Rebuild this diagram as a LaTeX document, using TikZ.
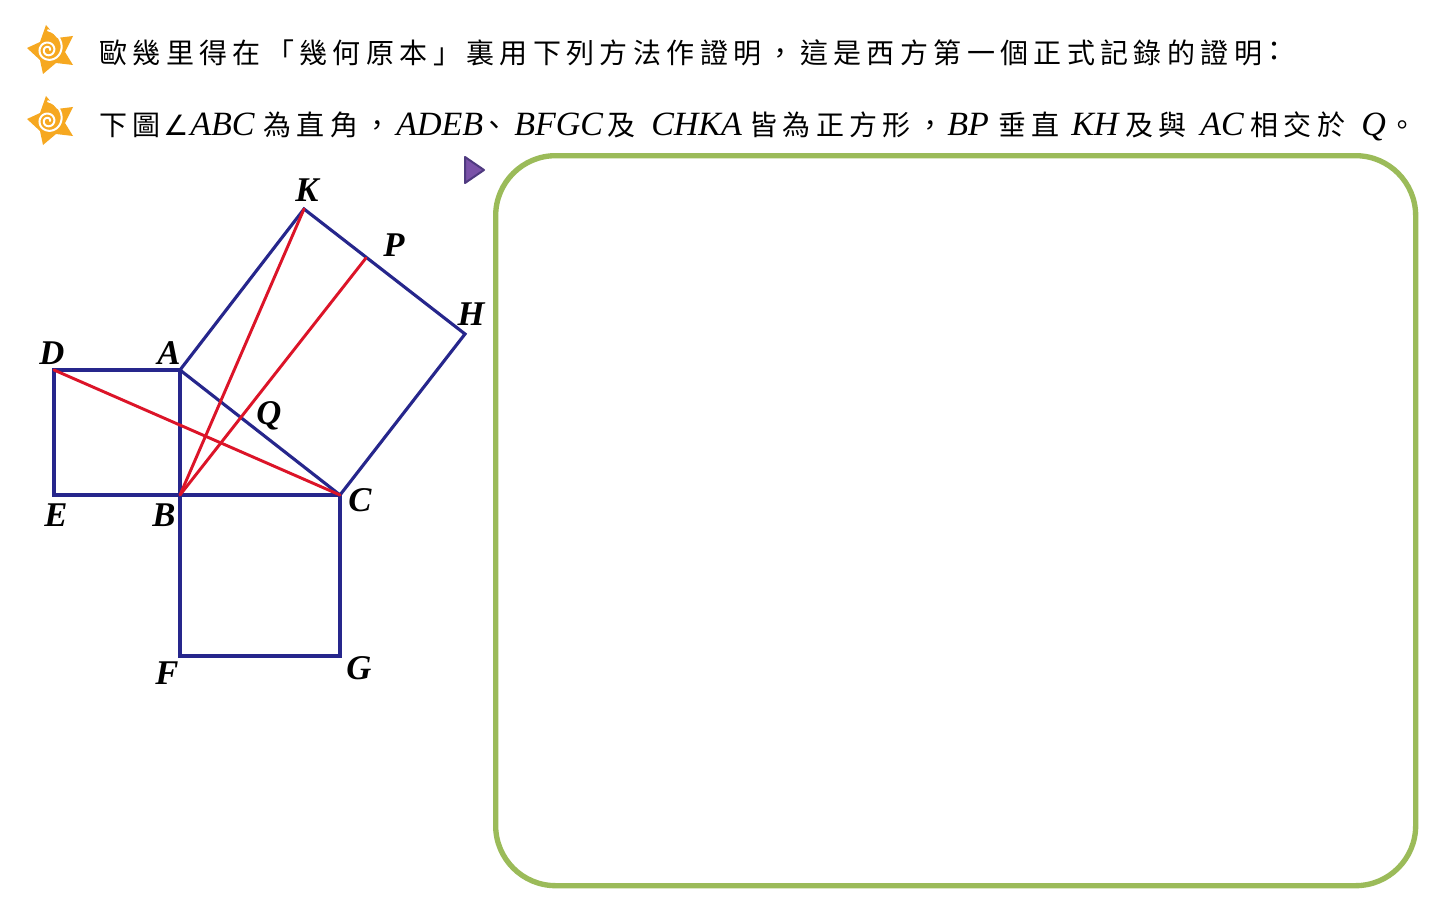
\documentclass[tikz,border=0pt]{standalone}
\usepackage{fontspec}
\setmainfont{Liberation Serif}
\newfontfamily\cjk[LetterSpace=19.2]{Noto Sans CJK TC}
\newfontfamily\mathsym{DejaVu Sans}
\definecolor{sq}{HTML}{26268C}
\definecolor{rd}{HTML}{DC1428}
\definecolor{frame}{HTML}{9BBB59}
\definecolor{stari}{HTML}{F6A821}
\definecolor{tri}{HTML}{7A52A8}
\definecolor{trid}{HTML}{4F3A80}
\tikzset{
  px/.style={x=0.75pt,y=-0.75pt},
  blueline/.style={draw=sq,line width=2.35pt,line join=miter},
  redline/.style={draw=rd,line width=2.2pt,line cap=round},
  ptlabel/.style={font=\fontsize{26pt}{26pt}\selectfont\bfseries\itshape,inner sep=0pt,text=black},
  cjktxt/.style={font=\fontsize{21pt}{24pt}\selectfont\cjk,anchor=base west,inner sep=0pt,text=black},
  lat/.style={font=\fontsize{25.5pt}{26pt}\selectfont\itshape,anchor=base west,inner sep=0pt,text=black},
}
\newcommand{\starmark}[1]{%
  \begin{scope}[shift={(0,#1)}]
    \fill[stari] (46,25) -- (57,38) -- (73,36) -- (65,52) -- (73,65) -- (56,63) -- (43,74) -- (40,60) -- (27,48) -- (40,42) -- cycle;
    \draw[white,line width=1.5pt,line cap=round] plot[domain=0:810,samples=80,smooth] ({48+(2+0.012*\x+8*(max(\x-600,0)/210)^2)*cos(720-\x)},{50+(2+0.012*\x+8*(max(\x-600,0)/210)^2)*sin(720-\x)});
  \end{scope}}
\begin{document}
\begin{tikzpicture}[px]
\useasboundingbox (0,0) rectangle (1446,917);
\fill[white] (0,0) rectangle (1446,917);
\starmark{0}
\starmark{71}
% text
\node[cjktxt] (t1) at (99,64) {歐幾里得在「幾何原本」裏用下列方法作證明^^^^ff0c這是西方第一個正式記錄的證明};
\node[cjktxt] (t2) at (1260,62) {^^^^ff1a};
\node[cjktxt] (a1) at (99,135) {下圖};
\node[lat,font=\fontsize{21pt}{26pt}\selectfont\mathsym] (a2) at (163,135) {∠};
\node[lat] (a3) at (190,135) {ABC};
\node[cjktxt] (a4) at (263,135) {為直角^^^^ff0c};
\node[lat] (a5) at (396,135) {ADEB};
\node[cjktxt] (a6) at (480,135) {、};
\node[lat] (a7) at (514,135) {BFGC};
\node[cjktxt] (a8) at (607,135) {及};
\node[lat] (a9) at (651,135) {CHKA};
\node[cjktxt] (a10) at (749,135) {皆為正方形^^^^ff0c};
\node[lat] (a11) at (947,135) {BP};
\node[cjktxt] (a12) at (998,135) {垂直};
\node[lat] (a13) at (1071,135) {KH};
\node[cjktxt] (a14) at (1125,135) {及與};
\node[lat] (a15) at (1200,135) {AC};
\node[cjktxt] (a16) at (1250,135) {相交於};
\node[lat] (a17) at (1361,135) {Q};
\node[cjktxt] (a18) at (1388,135) {。};
% marker and frame
\path[fill=tri,draw=trid,line width=1.5pt,line join=round] (465,157) -- (484,170) -- (465,183) -- cycle;
\node[draw=frame,line width=4pt,rounded corners=45pt,minimum width=690pt,minimum height=547.5pt,inner sep=0pt,anchor=north west] (frm) at (493,153) {};
% points
\coordinate (A) at (180,370);
\coordinate (B) at (180,495);
\coordinate (C) at (340,495);
\coordinate (D) at (54,370);
\coordinate (E) at (54,495);
\coordinate (F) at (180,656);
\coordinate (G) at (340,656);
\coordinate (K) at (304,209);
\coordinate (H) at (465,334);
\coordinate (P) at (366,258);
\draw[blueline] (A) -- (D) -- (E) -- (B) -- cycle;
\draw[blueline] (B) -- (F) -- (G) -- (C) -- cycle;
\draw[blueline] (C) -- (H) -- (K) -- (A) -- cycle;
\draw[redline] (D) -- (C);
\draw[redline] (B) -- (K);
\draw[redline] (B) -- (P);
% labels
\node[ptlabel] (lK) at (307,190) {K};
\node[ptlabel] (lP) at (394,245) {P};
\node[ptlabel] (lH) at (471,314) {H};
\node[ptlabel] (lD) at (52,353) {D};
\node[ptlabel] (lA) at (169,353) {A};
\node[ptlabel] (lQ) at (269,416) {Q};
\node[ptlabel] (lC) at (360,500) {C};
\node[ptlabel] (lE) at (56,515) {E};
\node[ptlabel] (lB) at (164,515) {B};
\node[ptlabel] (lF) at (167,673) {F};
\node[ptlabel] (lG) at (359,668) {G};
\end{tikzpicture}
\end{document}
